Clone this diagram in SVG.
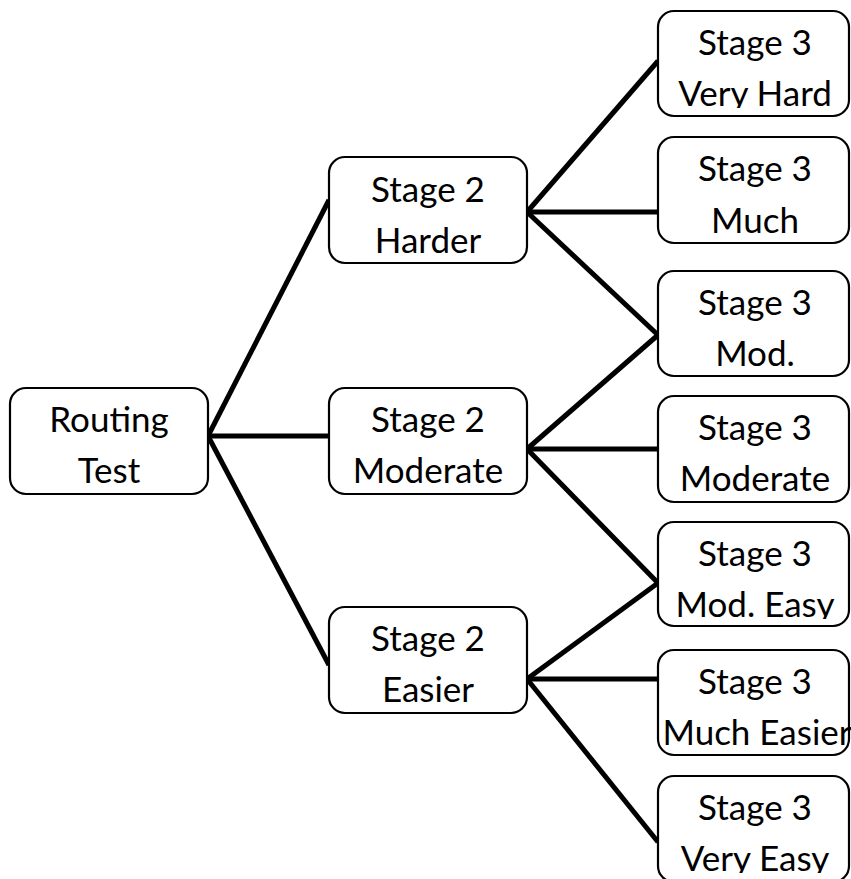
<svg xmlns="http://www.w3.org/2000/svg" width="851" height="879" viewBox="0 0 851 879">
<style>
.box{fill:#fff;stroke:#000;stroke-width:2.2}
.t{font-family:Lato,"Open Sans","Liberation Sans",sans-serif;font-size:35px;fill:#000;text-anchor:middle}
.c{stroke:#000;stroke-width:5;fill:none;stroke-linecap:butt}
</style>
<defs>
<clipPath id="clipA"><rect x="600" y="0" width="251" height="108"/></clipPath>
<clipPath id="clipE"><rect x="600" y="515" width="251" height="104"/></clipPath>
<clipPath id="clipG"><rect x="600" y="770" width="251" height="103"/></clipPath>
</defs>
<rect width="851" height="879" fill="#fff"/>
<g id="connectors">
<path class="c" d="M208,436 L329,200"/>
<path class="c" d="M208,436 L330,436"/>
<path class="c" d="M208,436 L329,665"/>
<path class="c" d="M527,212 L658,61"/>
<path class="c" d="M527,212 L658,212"/>
<path class="c" d="M527,212 L658,335"/>
<path class="c" d="M527,449 L658,335"/>
<path class="c" d="M527,449 L658,449"/>
<path class="c" d="M527,449 L658,583"/>
<path class="c" d="M527,679 L658,583"/>
<path class="c" d="M527,679 L658,679"/>
<path class="c" d="M527,679 L658,842"/>
</g>
<g id="routing">
<rect class="box" x="10" y="388" width="198" height="106" rx="16"/>
<text class="t" x="109" y="432">Routing</text>
<text class="t" x="109" y="483">Test</text>
</g>
<g id="s2-harder">
<rect class="box" x="329" y="157" width="198" height="106" rx="16"/>
<text class="t" x="428" y="202">Stage 2</text>
<text class="t" x="428" y="253">Harder</text>
</g>
<g id="s2-moderate">
<rect class="box" x="329" y="388" width="198" height="106" rx="16"/>
<text class="t" x="428" y="432">Stage 2</text>
<text class="t" x="428" y="483">Moderate</text>
</g>
<g id="s2-easier">
<rect class="box" x="329" y="607" width="198" height="106" rx="16"/>
<text class="t" x="428" y="651">Stage 2</text>
<text class="t" x="428" y="702">Easier</text>
</g>
<g id="s3-very-hard">
<rect class="box" x="658" y="11" width="191" height="105" rx="16"/>
<text class="t" x="755" y="55">Stage 3</text>
<text class="t" x="755" y="106" clip-path="url(#clipA)">Very Hard</text>
</g>
<g id="s3-much">
<rect class="box" x="658" y="137" width="191" height="106" rx="16"/>
<text class="t" x="755" y="181">Stage 3</text>
<text class="t" x="755" y="233">Much</text>
</g>
<g id="s3-mod">
<rect class="box" x="658" y="271" width="191" height="105" rx="16"/>
<text class="t" x="755" y="315">Stage 3</text>
<text class="t" x="755" y="366">Mod.</text>
</g>
<g id="s3-moderate">
<rect class="box" x="658" y="396" width="191" height="106" rx="16"/>
<text class="t" x="755" y="440">Stage 3</text>
<text class="t" x="755" y="491">Moderate</text>
</g>
<g id="s3-mod-easy">
<rect class="box" x="658" y="522" width="191" height="104" rx="16"/>
<text class="t" x="755" y="566">Stage 3</text>
<text class="t" x="755" y="617" clip-path="url(#clipE)">Mod. Easy</text>
</g>
<g id="s3-much-easier">
<rect class="box" x="658" y="650" width="191" height="105" rx="16"/>
<text class="t" x="755" y="694">Stage 3</text>
<text class="t" x="757" y="745">Much Easier</text>
</g>
<g id="s3-very-easy">
<rect class="box" x="658" y="776" width="191" height="106" rx="16"/>
<text class="t" x="755" y="820">Stage 3</text>
<text class="t" x="755" y="871" clip-path="url(#clipG)">Very Easy</text>
</g>
</svg>
